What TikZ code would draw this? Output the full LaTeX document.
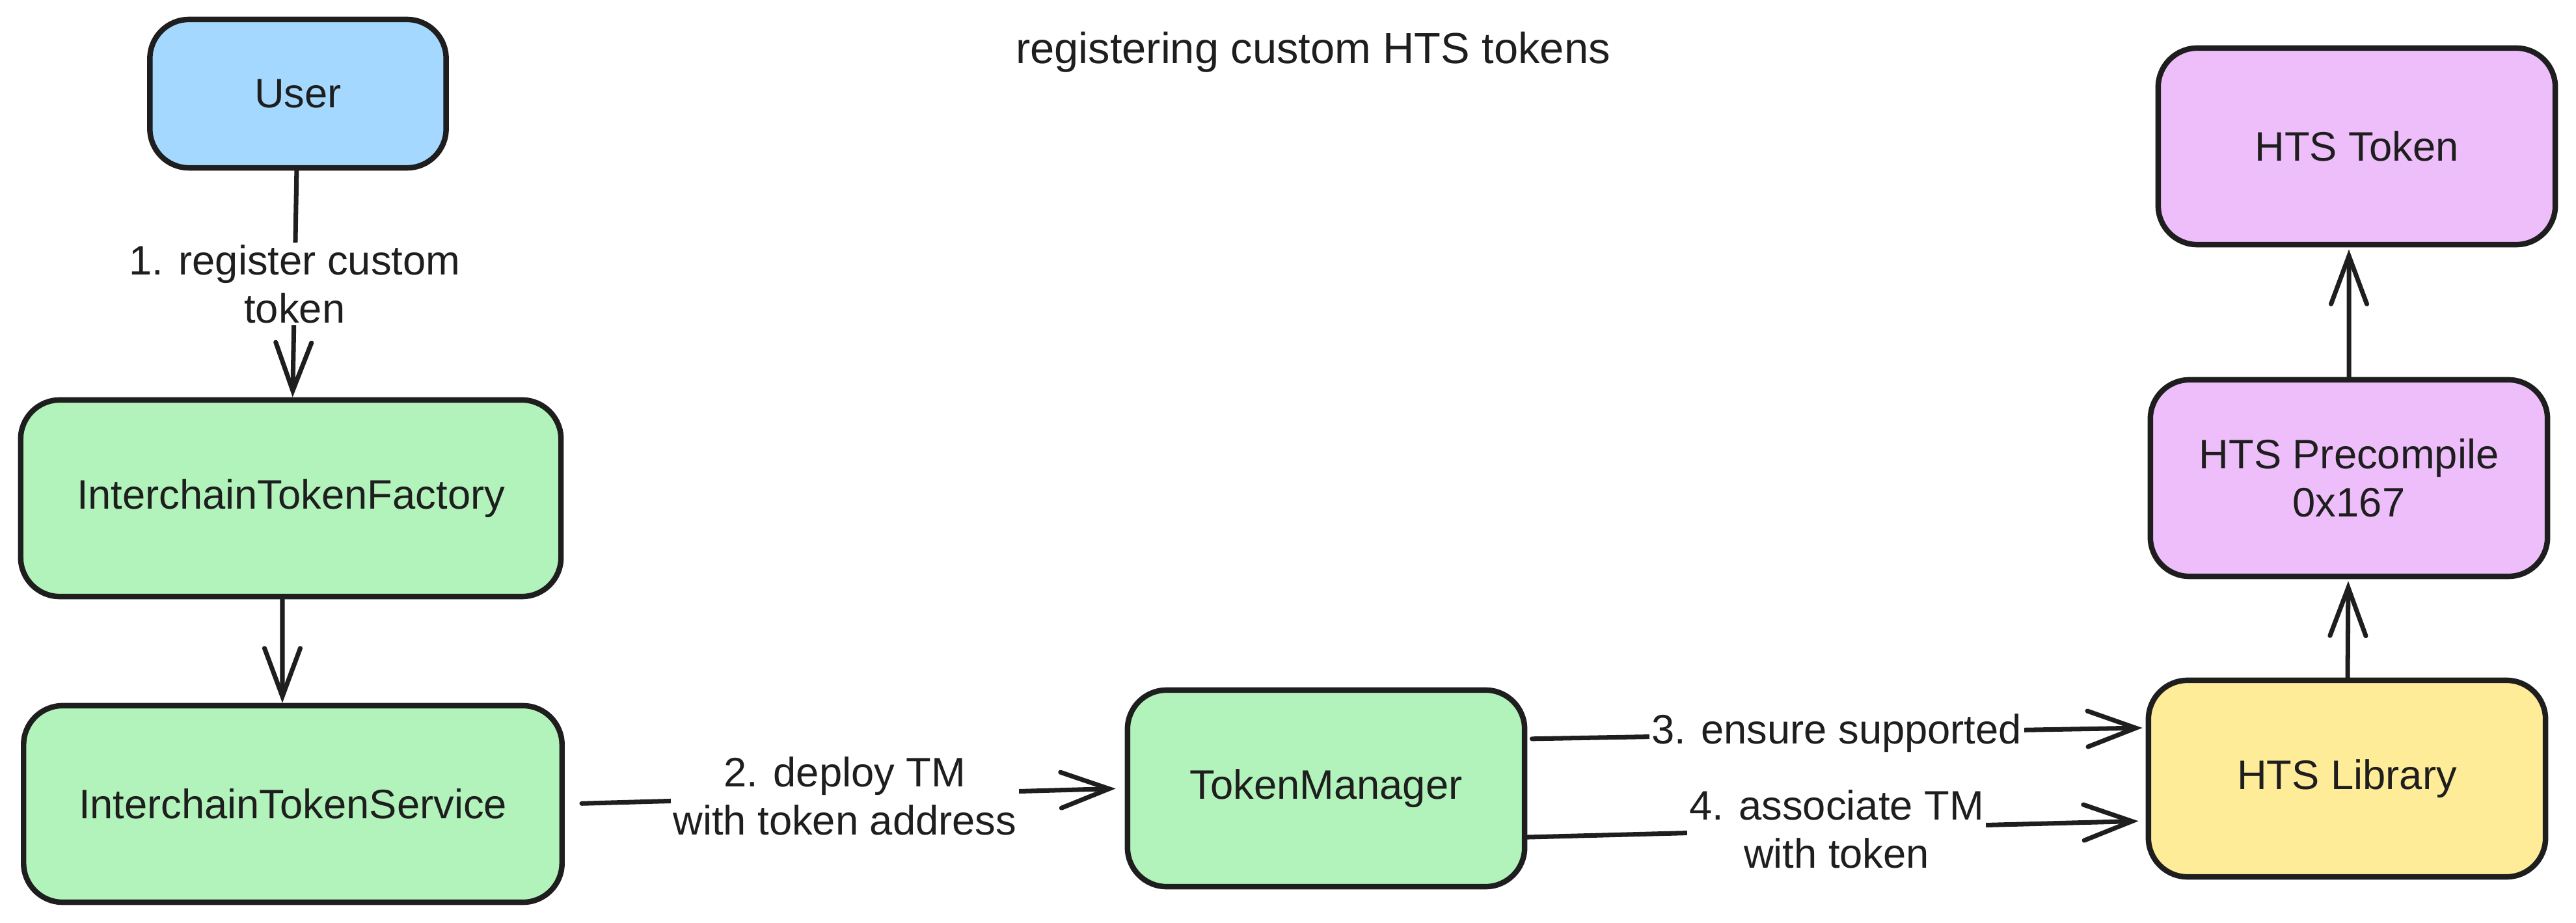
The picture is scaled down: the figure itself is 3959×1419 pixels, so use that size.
\documentclass[tikz,border=0pt]{standalone}
\usepackage{fontspec}
\setmainfont{Liberation Sans}
\usetikzlibrary{arrows.meta}
\definecolor{userblue}{HTML}{A5D8FF}
\definecolor{itsgreen}{HTML}{B2F2BB}
\definecolor{libyellow}{HTML}{FFEC99}
\definecolor{htspurple}{HTML}{EEBEFA}
\definecolor{ink}{HTML}{1E1E1E}
\begin{document}
\begin{tikzpicture}[x=0.01cm, y=-0.01cm,
        box/.style={draw=ink, line width=2.4pt, rounded corners=0.6cm, minimum width=6.1cm, minimum height=3.02cm, inner sep=0pt, align=center, text=ink, font=\fontsize{18pt}{21pt}\selectfont},
        flow/.style={draw=ink, line width=2pt, line cap=round, -{Straight Barb[length=0.74cm, width=0.55cm, line cap=round]}},
        lbl/.style={fill=white, inner sep=1pt, align=center, text=ink, font=\fontsize{18pt}{21pt}\selectfont}]
        \useasboundingbox (0, 0) rectangle (3959, 1419);
        \node[text=ink, font=\fontsize{19pt}{21pt}\selectfont] (title) at (2018, 80) {registering custom HTS tokens};
        \node[box, fill=userblue, minimum width=4.55cm, minimum height=2.28cm] (user) at (458, 144) {User};
        \node[box, fill=itsgreen, minimum width=8.3cm] (itf) at (447, 766) {InterchainTokenFactory};
        \node[box, fill=itsgreen, minimum width=8.27cm] (its) at (450, 1236) {InterchainTokenService};
        \node[box, fill=itsgreen] (tm) at (2038, 1212) {TokenManager};
        \node[box, fill=libyellow] (lib) at (3607, 1197) {HTS Library};
        \node[box, fill=htspurple] (pre) at (3610, 735) {HTS Precompile\\0x167};
        \node[box, fill=htspurple] (tok) at (3622, 225) {HTS Token};
        \draw[flow] (user) -- node[lbl] {1. register custom\\token} (itf);
        \draw[flow] ([xshift=-0.13cm]itf.south) -- ([xshift=-0.16cm]its.north);
        \draw[flow, shorten <=0.26cm, shorten >=0.14cm] (its.east) -- node[lbl] {2. deploy TM\\with token address} (tm.west);
        \draw[flow, shorten <=0.07cm, shorten >=0.05cm] ([yshift=0.76cm]tm.east) -- node[lbl] {3. ensure supported} ([yshift=0.78cm]lib.west);
        \draw[flow, shorten >=0.11cm] ([yshift=-0.75cm]tm.east) -- node[lbl] {4. associate TM\\with token} ([yshift=-0.65cm]lib.west);
        \draw[flow, shorten >=0.03cm] (lib) -- (pre);
        \draw[flow, shorten >=0.03cm] (pre.north) -- ([xshift=-0.12cm]tok.south);
    \end{tikzpicture}
\end{document}
